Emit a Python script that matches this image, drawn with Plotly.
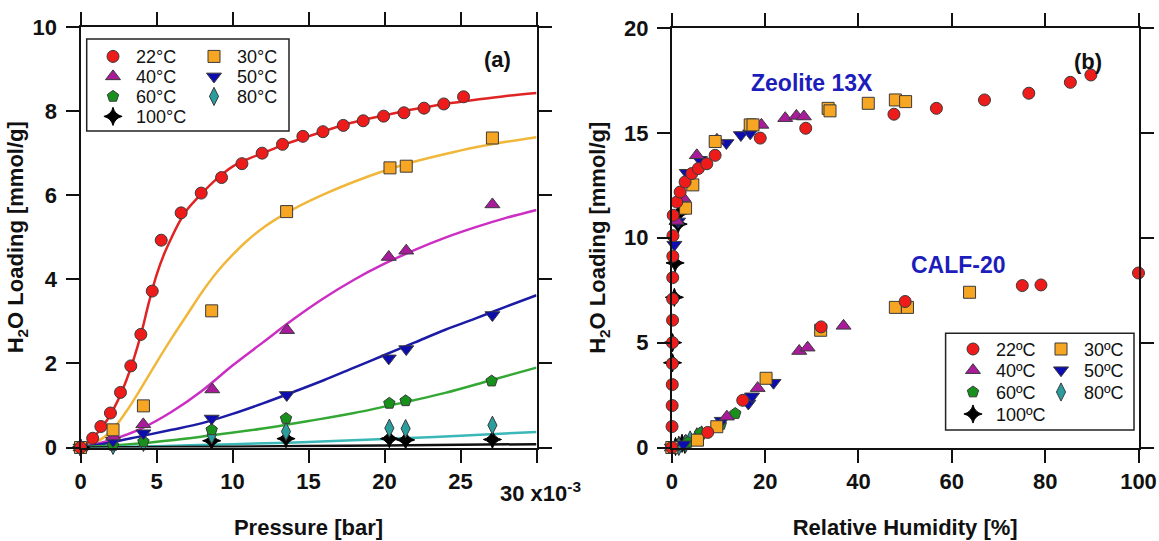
import plotly.graph_objects as go

W, H = 1159, 541

# ---------------- Panel (a): H2O loading vs pressure (x1e-3 bar) ----------------
a22_x = [0, 0.8, 1.34, 1.97, 2.63, 3.31, 3.97, 4.72, 5.31, 6.62, 7.94, 9.28, 10.62, 11.95,
         13.29, 14.63, 15.95, 17.29, 18.60, 19.94, 21.28, 22.6, 23.9, 25.2]
a22_y = [0, 0.22, 0.5, 0.82, 1.31, 1.94, 2.69, 3.72, 4.93, 5.58, 6.05, 6.42, 6.75, 7.0,
         7.21, 7.40, 7.51, 7.66, 7.77, 7.88, 7.96, 8.07, 8.17, 8.34]
a30_x = [0, 2.14, 4.14, 8.63, 13.56, 20.36, 21.43, 27.1]
a30_y = [0, 0.42, 0.99, 3.25, 5.61, 6.65, 6.69, 7.36]
a40_x = [0, 2.16, 4.13, 8.67, 13.59, 20.28, 21.43, 27.1]
a40_y = [0, 0.26, 0.55, 1.38, 2.79, 4.53, 4.68, 5.78]
a50_x = [0, 2.14, 4.14, 8.63, 13.57, 20.28, 21.43, 27.1]
a50_y = [0, 0.16, 0.34, 0.69, 1.25, 2.12, 2.34, 3.15]
a60_x = [0, 2.14, 4.14, 8.63, 13.52, 20.32, 21.39, 27.05]
a60_y = [0, 0.05, 0.14, 0.42, 0.69, 1.05, 1.11, 1.58]
a80_x = [0, 2.14, 4.14, 8.63, 13.52, 20.32, 21.39, 27.1]
a80_y = [0, 0.05, 0.12, 0.30, 0.38, 0.46, 0.45, 0.53]
a100_x = [0, 2.14, 4.14, 8.63, 13.52, 20.32, 21.39, 27.1]
a100_y = [0, -0.04, -0.04, 0.16, 0.21, 0.21, 0.18, 0.19]

# fitted curves
c22_x = [0, 0.5, 1, 1.5, 2, 2.5, 3, 3.5, 4, 4.5, 5, 5.5, 6, 6.5, 7, 8, 9, 10, 11, 12,
         13.3, 15, 17.7, 20, 22, 24, 26, 28, 30]
c22_y = [0, 0.12, 0.3, 0.52, 0.8, 1.15, 1.58, 2.1, 2.72, 3.45, 4.1, 4.6, 5.0, 5.36, 5.65,
         6.05, 6.4, 6.68, 6.86, 7.0, 7.19, 7.4, 7.71, 7.9, 8.05, 8.17, 8.27, 8.36, 8.43]
c30_x = [0, 1, 2, 3, 4, 5, 6, 7, 8, 9, 10, 11, 12, 13, 14, 16, 18, 20, 22, 24, 26, 28, 30]
c30_y = [0, 0.12, 0.38, 0.85, 1.42, 2.02, 2.6, 3.15, 3.7, 4.18, 4.58, 4.93, 5.22, 5.46,
         5.67, 6.02, 6.32, 6.58, 6.8, 6.98, 7.14, 7.27, 7.38]
c40_x = [0, 2, 4, 6, 8, 10, 12, 14, 16, 18, 20, 22, 24, 26, 28, 30]
c40_y = [0, 0.18, 0.45, 0.85, 1.35, 1.95, 2.5, 3.05, 3.55, 3.99, 4.37, 4.70, 4.99, 5.24, 5.46, 5.65]
c50_x = [0, 2, 4, 6, 8, 10, 12, 14, 16, 18, 20, 22, 24, 26, 28, 30]
c50_y = [0, 0.12, 0.27, 0.42, 0.58, 0.8, 1.05, 1.32, 1.6, 1.9, 2.2, 2.5, 2.8, 3.07, 3.35, 3.62]
c60_x = [0, 4, 8, 12, 15, 18, 21, 24, 27, 30]
c60_y = [0, 0.1, 0.26, 0.45, 0.63, 0.82, 1.05, 1.3, 1.6, 1.9]
c80_x = [0, 5, 10, 15, 20, 25, 30]
c80_y = [0, 0.03, 0.08, 0.13, 0.2, 0.28, 0.37]
c100_x = [0, 10, 20, 30]
c100_y = [0, 0.02, 0.05, 0.08]

a_xticks = [0, 5, 10, 15, 20, 25, 30]
a_xticktext = ["0", "5", "10", "15", "20", "25", ""]
a_yticks = [0, 2, 4, 6, 8, 10]

# ---------------- Panel (b): H2O loading vs relative humidity ----------------
b22_zeo_x = [0.05, 0.08, 0.1, 0.12, 0.14, 0.16, 0.18, 0.2, 0.22, 0.25, 0.3, 1.07, 1.78, 2.85,
             4.28, 5.7, 7.5, 9.28, 18.95, 28.7, 47.6, 56.7, 67.0, 76.5, 85.4, 89.8]
b22_zeo_y = [1.0, 2.0, 3.0, 4.0, 5.0, 6.07, 7.08, 8.1, 9.12, 10.1, 11.07, 11.7, 12.18, 12.66,
             13.06, 13.3, 13.53, 13.93, 14.75, 15.22, 15.89, 16.17, 16.57, 16.89, 17.41, 17.76]
b22_calf_x = [0, 7.7, 15.2, 32.0, 50.0, 75.1, 79.1, 100]
b22_calf_y = [0, 0.72, 2.25, 5.75, 6.96, 7.72, 7.75, 8.32]
b30_zeo_x = [2.95, 4.5, 9.3, 16.8, 17.4, 33.5, 33.9, 42.1, 47.9, 50.1]
b30_zeo_y = [11.41, 12.52, 14.59, 15.38, 15.38, 16.17, 16.05, 16.41, 16.57, 16.49]
b30_calf_x = [0, 5.5, 9.64, 20.2, 31.9, 47.9, 50.5, 63.8]
b30_calf_y = [0, 0.35, 0.99, 3.3, 5.59, 6.68, 6.68, 7.4]
b40_zeo_x = [1.0, 2.5, 5.36, 9.67, 19.2, 24.3, 26.7, 28.3]
b40_zeo_y = [10.8, 11.89, 13.93, 14.67, 15.38, 15.7, 15.81, 15.78]
b40_calf_x = [0, 11.8, 18.4, 27.3, 29.1, 36.8]
b40_calf_y = [0, 1.47, 2.83, 4.6, 4.76, 5.8]
b50_zeo_x = [0.55, 1.35, 3.2, 6.0, 11.7, 14.8, 16.8]
b50_zeo_y = [9.67, 10.78, 13.1, 13.72, 14.52, 14.9, 14.98]
b50_calf_x = [0, 2.5, 10.7, 16.4, 17.2, 21.8]
b50_calf_y = [0, 0.15, 1.28, 2.1, 2.44, 3.09]
b60_calf_x = [0, 3.5, 6.1, 10.5, 13.6]
b60_calf_y = [0, 0.25, 0.69, 1.1, 1.62]
b80_calf_x = [1.5, 3.0, 3.93, 5.36, 6.4]
b80_calf_y = [0.05, 0.2, 0.36, 0.51, 0.6]
b100_zeo_x = [0.16, 0.16, 0.55, 0.7, 1.35, 1.6]
b100_zeo_y = [4.04, 5.0, 7.16, 8.8, 10.65, 11.17]
b100_calf_x = [0.8, 1.5, 2.2, 2.8]
b100_calf_y = [0.05, 0.1, 0.2, 0.15]

b_xticks = [0, 20, 40, 60, 80, 100]
b_yticks = [0, 5, 10, 15, 20]

temps_a = ["22°C", "30°C", "40°C", "50°C", "60°C", "80°C", "100°C"]
temps_b = ["22ºC", "30ºC", "40ºC", "50ºC", "60ºC", "80ºC", "100ºC"]

# ---------------- styles ----------------
fills = ["#ee1b1b", "#f6a623", "#a81c9c", "#0c0cb0", "#17901c", "#2a9d9d", "#000000"]
lines = ["#e02424", "#f0b73a", "#cc2ec4", "#1b1ba5", "#34a834", "#3ab7b7", "#111111"]
symbols = ["circle", "square", "triangle-up", "triangle-down", "pentagon", "diamond-tall", "star-diamond"]
sizes = [12, 12, 13, 13, 12, 13, 13]
OUT = "#3a3a3a"
FONT = "Liberation Sans, Arial, sans-serif"

# one legend per legend row (two entries per row)
row_of = [0, 0, 1, 1, 2, 2, 3]
leg_names_a = ["legend", "legend2", "legend3", "legend4"]
leg_names_b = ["legend5", "legend6", "legend7", "legend8"]

fig = go.Figure()

curves = [(c22_x, c22_y), (c30_x, c30_y), (c40_x, c40_y), (c50_x, c50_y),
          (c60_x, c60_y), (c80_x, c80_y), (c100_x, c100_y)]
for i, (cx, cy) in enumerate(curves):
    fig.add_trace(go.Scatter(x=cx, y=cy, mode="lines", line=dict(color=lines[i], width=2.5, shape="spline"),
                             showlegend=False, hoverinfo="skip", xaxis="x", yaxis="y"))

pts_a = [(a22_x, a22_y), (a30_x, a30_y), (a40_x, a40_y), (a50_x, a50_y),
         (a60_x, a60_y), (a80_x, a80_y), (a100_x, a100_y)]
order = [6, 5, 4, 3, 2, 1, 0]
for i in order:
    px, py = pts_a[i]
    fig.add_trace(go.Scatter(x=px, y=py, mode="markers", name=temps_a[i], legend=leg_names_a[row_of[i]],
                             marker=dict(symbol=symbols[i], size=sizes[i], color=fills[i],
                                         line=dict(color=OUT if i != 6 else "#000", width=1)),
                             cliponaxis=False, xaxis="x", yaxis="y"))

pts_b = [(b22_zeo_x + b22_calf_x, b22_zeo_y + b22_calf_y),
         (b30_zeo_x + b30_calf_x, b30_zeo_y + b30_calf_y),
         (b40_zeo_x + b40_calf_x, b40_zeo_y + b40_calf_y),
         (b50_zeo_x + b50_calf_x, b50_zeo_y + b50_calf_y),
         (b60_calf_x, b60_calf_y),
         (b80_calf_x, b80_calf_y),
         (b100_zeo_x + b100_calf_x, b100_zeo_y + b100_calf_y)]
for i in order:
    px, py = pts_b[i]
    fig.add_trace(go.Scatter(x=px, y=py, mode="markers", name=temps_b[i], legend=leg_names_b[row_of[i]],
                             marker=dict(symbol=symbols[i], size=sizes[i], color=fills[i],
                                         line=dict(color=OUT if i != 6 else "#000", width=1)),
                             cliponaxis=False, xaxis="x2", yaxis="y2"))

axis_common = dict(showline=True, linecolor="#111", linewidth=2, mirror="ticks", ticks="outside",
                   ticklen=13, tickwidth=2, tickcolor="#111", showgrid=False, zeroline=False,
                   automargin=False,
                   tickfont=dict(family=FONT, size=22, color="#111", weight="bold"),
                   title_font=dict(family=FONT, size=22, color="#111", weight="bold"))

def px2x(p):
    return p / W

def px2y(p):
    return 1 - p / H

fig.update_layout(
    width=W, height=H, margin=dict(l=0, r=0, t=0, b=0, autoexpand=False),
    paper_bgcolor="white", plot_bgcolor="white",
    font=dict(family=FONT, color="#111"),
    xaxis=dict(domain=[px2x(80.5), px2x(536.5)], range=[0, 30], tickvals=a_xticks, ticktext=a_xticktext,
               anchor="y", title=dict(text="Pressure [bar]", standoff=27), ticklabelstandoff=0, **axis_common),
    yaxis=dict(domain=[px2y(447.5), px2y(27)], range=[0, 10], tickvals=a_yticks, anchor="x",
               title=dict(text="H<sub>2</sub>O Loading [mmol/g]", standoff=3), ticklabelstandoff=4, **axis_common),
    xaxis2=dict(domain=[px2x(671.8), px2x(1138.5)], range=[0, 100], tickvals=b_xticks, anchor="y2",
                title=dict(text="Relative Humidity [%]", standoff=27), ticklabelstandoff=0, **axis_common),
    yaxis2=dict(domain=[px2y(447.5), px2y(28)], range=[0, 20], tickvals=b_yticks, anchor="x2",
                title=dict(text="H<sub>2</sub>O Loading [mmol/g]", standoff=12), ticklabelstandoff=4, **axis_common),
    showlegend=True,
)

leg_common = dict(font=dict(family=FONT, size=18, color="#111"), bgcolor="rgba(0,0,0,0)",
                  borderwidth=0, xanchor="left", yanchor="middle", orientation="h",
                  traceorder="reversed", entrywidthmode="pixels", itemwidth=36,
                  itemclick=False, itemdoubleclick=False)
rows_a = [56.7, 76.7, 96.7, 116.7]
rows_b = [349.3, 370.5, 392.3, 414.3]
entry_a = [50, 50, 50, 70]
entry_b = [37, 37, 37, 70]
layout_legends = {}
for k in range(4):
    layout_legends[leg_names_a[k]] = dict(x=px2x(90), y=px2y(rows_a[k]), entrywidth=entry_a[k], **leg_common)
    layout_legends[leg_names_b[k]] = dict(x=px2x(950), y=px2y(rows_b[k]), entrywidth=entry_b[k], **leg_common)
fig.update_layout(**layout_legends)

# legend frames
fig.add_shape(type="rect", xref="paper", yref="paper", x0=px2x(86.7), x1=px2x(289),
              y0=px2y(131), y1=px2y(39), line=dict(color="#222", width=1.5))
fig.add_shape(type="rect", xref="paper", yref="paper", x0=px2x(945.6), x1=px2x(1134),
              y0=px2y(430), y1=px2y(333.3), line=dict(color="#222", width=1.5), fillcolor="white",
              layer="below")

ann_font = dict(family=FONT, size=22, color="#111", weight="bold")
ann_common = dict(xref="paper", yref="paper", showarrow=False, xanchor="center", yanchor="middle")
fig.add_annotation(x=px2x(497), y=px2y(60), text="(a)", font=ann_font, **ann_common)
fig.add_annotation(x=px2x(1088), y=px2y(61.7), text="(b)", font=ann_font, **ann_common)
fig.add_annotation(x=30, y=0, xref="x", yref="y", yshift=-44, xshift=4, text="30 x10<sup>-3</sup>",
                   showarrow=False, font=ann_font, xanchor="center", yanchor="middle")
blue_font = dict(family=FONT, size=23, color="#1d1dbb", weight="bold")
fig.add_annotation(x=px2x(812), y=px2y(83.3), text="Zeolite 13X", font=blue_font, **ann_common)
fig.add_annotation(x=px2x(958), y=px2y(265), text="CALF-20", font=blue_font, **ann_common)

fig.write_html("out.html")
